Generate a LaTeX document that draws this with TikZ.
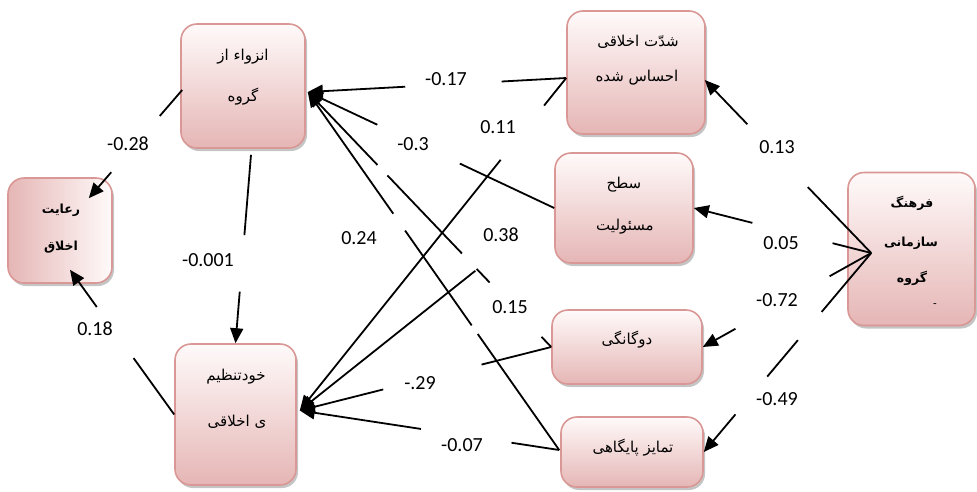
\documentclass[tikz,border=0pt]{standalone}
\usepackage{fontspec}
\setmainfont{Carlito}
\newfontfamily\fafont[Script=Arabic]{DejaVu Sans}
\TeXXeTstate=1
\usetikzlibrary{arrows.meta,calc,shadows}
\definecolor{boxborder}{HTML}{D99795}
\definecolor{boxtop}{HTML}{FFFAFA}
\definecolor{boxbot}{HTML}{E5B6B5}
\newcommand{\rl}[1]{\beginR #1\endR}
\begin{document}
\begin{tikzpicture}[x=1pt,y=-1pt,
  box/.style={draw=boxborder,line width=1.6pt,rounded corners=16pt,top color=boxtop,bottom color=boxbot,
    drop shadow={shadow xshift=2pt,shadow yshift=-3pt,fill=black!50,opacity=0.45},inner sep=0pt},
  conn/.style={line width=1.8pt,black},
  arr/.style={conn,-{Triangle[length=15pt,width=13pt]}},
  num/.style={font=\fontsize{20}{22}\selectfont,inner sep=1pt},
  fa/.style={font=\fafont\fontsize{15}{17}\selectfont,inner sep=0pt},
  fab/.style={font=\fafont\bfseries\fontsize{12.5}{14}\selectfont,inner sep=0pt}]
\fill[white] (0,0) rectangle (977,491);
\useasboundingbox (0,0) rectangle (977,491);

% boxes
\node[box,minimum width=124pt,minimum height=124pt] (A) at (243,86) {};
\node[box,minimum width=104pt,minimum height=105pt,shading angle=45,left color=boxbot,right color=boxtop] (B) at (60,230.5) {};
\node[box,minimum width=121pt,minimum height=141pt] (C) at (235.5,414.5) {};
\node[box,minimum width=138pt,minimum height=123pt] (D) at (636,72.5) {};
\node[box,minimum width=138pt,minimum height=110pt] (E) at (624,208) {};
\node[box,minimum width=150pt,minimum height=74pt] (F) at (627,347) {};
\node[box,minimum width=142pt,minimum height=70pt] (G) at (632,452) {};
\node[box,minimum width=127pt,minimum height=153pt] (H) at (911.5,249) {};

% texts
\node[fa] (A1) at (243,57) {\rl{انزواء از}};
\node[fa] (A2) at (243,97) {\rl{گروه}};
\node[fab] (B1) at (61,210) {\rl{رعایت}};
\node[fab] (B2) at (61,247) {\rl{اخلاق}};
\node[fa] (C1) at (236,377) {\rl{خودتنظیم}};
\node[fa] (C2) at (237,422) {\rl{ی اخلاقی}};
\node[fa] (D1) at (638,42) {\rl{شدّت اخلاقی}};
\node[fa] (D2) at (637,78) {\rl{احساس شده}};
\node[fa] (E1) at (624,185) {\rl{سطح}};
\node[fa] (E2) at (625,227) {\rl{مسئولیت}};
\node[fa] (F1) at (627,340) {\rl{دوگانگی}};
\node[fa] (G1) at (633,448) {\rl{تمایز پایگاهی}};
\node[fab] (H1) at (912,203) {\rl{فرهنگ}};
\node[fab] (H2) at (911,243) {\rl{سازمانی}};
\node[fab] (H3) at (912,278) {\rl{گروه}};
\node[font=\fontsize{12}{12}\selectfont,inner sep=0pt] (H4) at (935,306) {-};

% anchor points
\coordinate (aW) at ($(A.west)+(2,4)$);
\coordinate (aS) at ($(A.south)+(8,6)$);
\coordinate (aE) at ($(A.east)+(2,6)$);
\coordinate (bT) at ($(B.north east)+(-24,21)$);
\coordinate (bB) at ($(B.south)+(10,-14)$);
\coordinate (cW) at (C.west);
\coordinate (cN) at (C.north);
\coordinate (cE) at ($(C.east)+(3,-4)$);
\coordinate (dW) at ($(D.west)+(0,5.5)$);
\coordinate (dE) at ($(D.east)+(-1,7.5)$);
\coordinate (eW) at (E.west);
\coordinate (eE) at (E.east);
\coordinate (fW) at (F.west);
\coordinate (fE) at (F.east);
\coordinate (gW) at ($(G.west)+(-1,-2)$);
\coordinate (gE) at (G.east);
\coordinate (hC) at ($(H.west)+(24,4)$);

% A -> B
\draw[conn] (aW) -- ($(aW)!0.24!(bT)$);
\draw[arr] ($(aW)!0.76!(bT)$) -- (bT);
% C -> B
\draw[conn] (cW) -- ($(cW)!0.39!(bB)$);
\draw[arr] ($(cW)!0.743!(bB)$) -- (bB);
% A -> C
\draw[conn] (aS) -- ($(aS)!0.426!(cN)$);
\draw[arr] ($(aS)!0.726!(cN)$) -- (cN);
% D -> A
\draw[conn] (dW) -- ($(dW)!0.25!(aE)$);
\draw[arr] ($(dW)!0.623!(aE)$) -- (aE);
% E -> A
\draw[conn] (eW) -- ($(eW)!0.383!(aE)$);
\draw[arr] ($(eW)!0.718!(aE)$) -- (aE);
% F -> A
\draw[conn] (fW) -- ($(fW)!0.04!(aE)$);
\draw[conn] ($(fW)!0.253!(aE)$) -- ($(fW)!0.306!(aE)$);
\draw[conn] ($(fW)!0.367!(aE)$) -- ($(fW)!0.673!(aE)$);
\draw[arr] ($(fW)!0.714!(aE)$) -- (aE);
% G -> A
\draw[conn] (gW) -- ($(gW)!0.324!(aE)$);
\draw[conn] ($(gW)!0.348!(aE)$) -- ($(gW)!0.613!(aE)$);
\draw[arr] ($(gW)!0.66!(aE)$) -- (aE);
% D -> C
\draw[conn] (dW) -- ($(dW)!0.083!(cE)$);
\draw[arr] ($(dW)!0.246!(cE)$) -- (cE);
% E -> C
\draw[arr] ($(eW)!0.31!(cE)$) -- (cE);
% F -> C
\draw[conn] (fW) -- ($(fW)!0.277!(cE)$);
\draw[arr] ($(fW)!0.668!(cE)$) -- (cE);
% G -> C
\draw[conn] (gW) -- ($(gW)!0.184!(cE)$);
\draw[arr] ($(gW)!0.533!(cE)$) -- (cE);
% H -> D
\draw[conn] (hC) -- ($(hC)!0.381!(dE)$);
\draw[arr] ($(hC)!0.744!(dE)$) -- (dE);
% H -> E
\draw[conn] (hC) -- ($(hC)!0.218!(eE)$);
\draw[arr] ($(hC)!0.67!(eE)$) -- (eE);
% H -> F
\draw[conn] (hC) -- ($(hC)!0.247!(fE)$);
\draw[arr] ($(hC)!0.806!(fE)$) -- (fE);
% H -> G
\draw[conn] (hC) -- ($(hC)!0.296!(gE)$);
\draw[conn] ($(hC)!0.438!(gE)$) -- ($(hC)!0.621!(gE)$);
\draw[arr] ($(hC)!0.811!(gE)$) -- (gE);

% labels
\node[num] (l1) at (128,144) {-0.28};
\node[num] (l2) at (95,329) {0.18};
\node[num] (l3) at (208,260) {-0.001};
\node[num] (l4) at (446,79) {-0.17};
\node[num] (l5) at (413,144) {-0.3};
\node[num] (l6) at (498,127) {0.11};
\node[num] (l7) at (359,238) {0.24};
\node[num] (l8) at (501,235) {0.38};
\node[num] (l9) at (510,307) {0.15};
\node[num] (l10) at (420,383) {-.29};
\node[num] (l11) at (462,445) {-0.07};
\node[num] (l12) at (777,147) {0.13};
\node[num] (l13) at (781,243) {0.05};
\node[num] (l14) at (777,300) {-0.72};
\node[num] (l15) at (777,399) {-0.49};
\end{tikzpicture}
\end{document}
